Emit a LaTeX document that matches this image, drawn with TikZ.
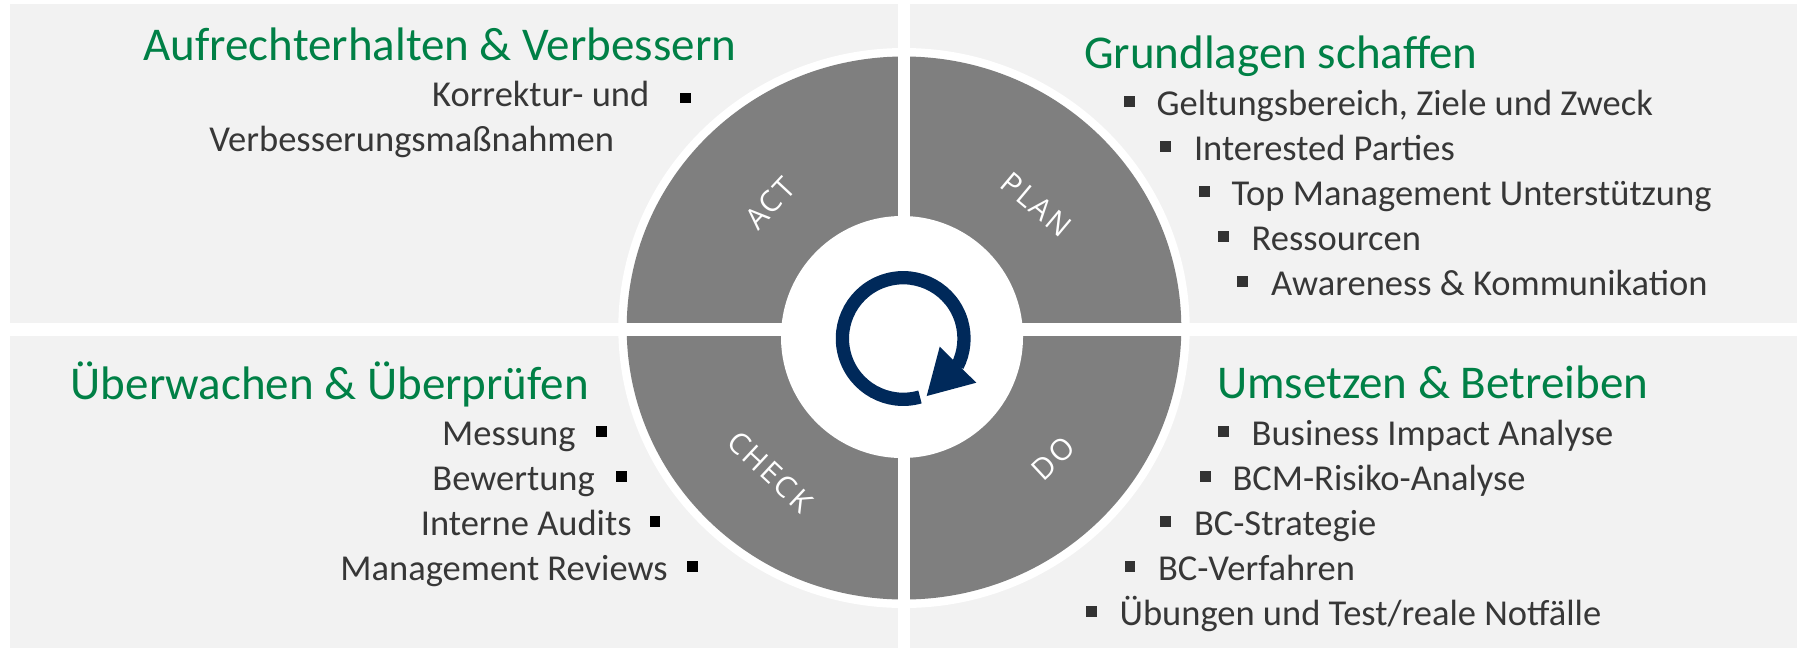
\documentclass[tikz,border=0pt]{standalone}
\usepackage{fontspec}
\setmainfont{Carlito}
\newfontfamily\labelfont[LetterSpace=8]{Open Sans}

\definecolor{panel}{RGB}{242,242,242}
\definecolor{ringgray}{RGB}{127,127,127}
\definecolor{headgreen}{RGB}{0,128,70}
\definecolor{bodytext}{RGB}{55,55,55}
\definecolor{navy}{RGB}{0,41,90}
\definecolor{bulletgray}{RGB}{51,51,51}

\begin{document}
\begin{tikzpicture}[x=1pt,y=-1pt,
  heading/.style={font=\fontsize{47}{56}\selectfont, text=headgreen, inner sep=0pt, outer sep=0pt},
  item/.style={font=\fontsize{36.5}{44}\selectfont, text=bodytext, inner sep=0pt, outer sep=0pt},
  sqL/.style={fill=black, minimum size=10.7pt, inner sep=0pt, outer sep=0pt},
  sqR/.style={fill=bulletgray, minimum size=10.7pt, inner sep=0pt, outer sep=0pt},
  phase/.style={font=\labelfont\fontsize{29.5}{34}\selectfont, text=white, inner sep=0pt, outer sep=0pt}]

\useasboundingbox (0,0) rectangle (1803,649);
\fill[white] (0,0) rectangle (1803,649);

% four background panels
\fill[panel] (9.6,4) rectangle (898,323);
\fill[panel] (910,4) rectangle (1797,323);
\fill[panel] (9.6,336) rectangle (898,648);
\fill[panel] (910,336) rectangle (1797,648);

% PDCA wheel
\fill[white] (904,328) ellipse [x radius=285.7, y radius=280];
\fill[ringgray] (904,328) ellipse [x radius=277.3, y radius=271.5];
\fill[white] (902,337) circle [radius=121];

% separating gaps
\fill[white] (898,0) rectangle (910,649);
\fill[white] (0,323) rectangle (1803,336);

% phase labels
\node[phase, rotate=47]  (act)   at (770,203.3)  {ACT};
\node[phase, rotate=-40] (plan)  at (1036.7,204.2) {PLAN};
\node[phase, rotate=-43] (check) at (770,471.6)  {CHECK};
\node[phase, rotate=43]  (do)    at (1053.3,458.3) {DO};

% cycle icon
\coordinate (cyc) at (903.2,338.5);
\draw[navy, line width=13.3pt] (cyc) ++(74:60.8) arc[start angle=74, end angle=387, radius=60.8];
\fill[navy] (939.7,346.7) -- (976.3,382.7) -- (926.7,396) -- cycle;

% Aufrechterhalten & Verbessern
\node[heading, anchor=base west] (hAct) at (143.5,60) {Aufrechterhalten \& Verbessern};
\node[item, anchor=base east] (a1) at (649.3,106) {Korrektur- und};
\node[item, anchor=base east] (a1b) at (613.9,151.7) {Verbesserungsmaßnahmen};
\node[sqL] (ba1) at (685.3,98) {};

% Grundlagen schaffen
\node[heading, anchor=base west] (hPlan) at (1084,68.3) {Grundlagen schaffen};
\node[item, anchor=base west] (p1) at (1156.6,115) {Geltungsbereich, Ziele und Zweck};
\node[item, anchor=base west] (p2) at (1194,160) {Interested Parties};
\node[item, anchor=base west] (p3) at (1231.6,205) {Top Management Unterstützung};
\node[item, anchor=base west] (p4) at (1251.7,250) {Ressourcen};
\node[item, anchor=base west] (p5) at (1271,295) {Awareness \& Kommunikation};
\node[sqR] (bp1) at (1129.5,101.3) {};
\node[sqR] (bp2) at (1165.8,146.3) {};
\node[sqR] (bp3) at (1204.3,191.3) {};
\node[sqR] (bp4) at (1223.4,236.3) {};
\node[sqR] (bp5) at (1242.5,281.3) {};

% Überwachen & Überprüfen
\node[heading, anchor=base west] (hCheck) at (70.8,399) {Überwachen \& Überprüfen};
\node[item, anchor=base east] (c1) at (575.6,445) {Messung};
\node[item, anchor=base east] (c2) at (594.7,490) {Bewertung};
\node[item, anchor=base east] (c3) at (631.6,535) {Interne Audits};
\node[item, anchor=base east] (c4) at (667.5,580) {Management Reviews};
\node[sqL] (bc1) at (601.7,431.5) {};
\node[sqL] (bc2) at (621.5,476.5) {};
\node[sqL] (bc3) at (655,521.5) {};
\node[sqL] (bc4) at (692.6,566.5) {};

% Umsetzen & Betreiben
\node[heading, anchor=base west] (hDo) at (1217,398.3) {Umsetzen \& Betreiben};
\node[item, anchor=base west] (d1) at (1251.7,445) {Business Impact Analyse};
\node[item, anchor=base west] (d2) at (1232.5,490) {BCM-Risiko-Analyse};
\node[item, anchor=base west] (d3) at (1194,535) {BC-Strategie};
\node[item, anchor=base west] (d4) at (1158,580) {BC-Verfahren};
\node[item, anchor=base west] (d5) at (1119.6,625) {Übungen und Test/reale Notfälle};
\node[sqR] (bd1) at (1223.5,431.3) {};
\node[sqR] (bd2) at (1205.5,476.3) {};
\node[sqR] (bd3) at (1165.8,521.3) {};
\node[sqR] (bd4) at (1130,566.3) {};
\node[sqR] (bd5) at (1091.3,611.3) {};

\end{tikzpicture}
\end{document}
